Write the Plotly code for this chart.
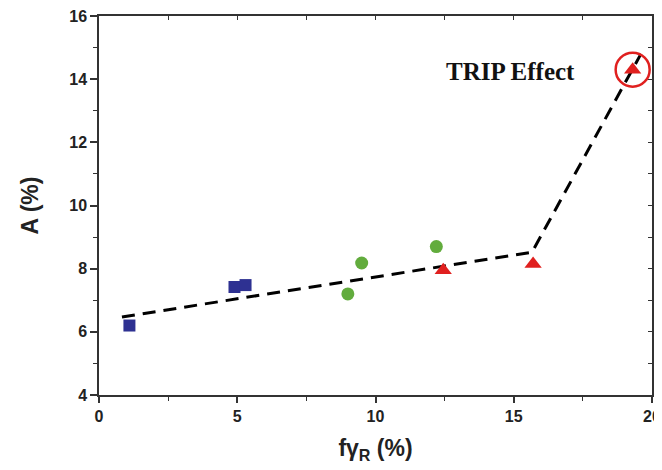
import plotly.graph_objects as go

sq_x = [1.1, 4.9, 5.3]
sq_y = [6.2, 7.42, 7.48]
ci_x = [9.0, 9.5, 12.2]
ci_y = [7.2, 8.18, 8.7]
tr_x = [12.45, 15.7, 19.3]
tr_y = [7.95, 8.15, 14.3]
fit_x = [0.83, 15.66, 19.6]
fit_y = [6.47, 8.52, 14.8]
hl_x = [19.3]
hl_y = [14.3]

fig = go.Figure()
fig.add_trace(go.Scatter(x=fit_x, y=fit_y, mode="lines",
                         line=dict(color="black", width=3, dash="13px,8px"),
                         showlegend=False, hoverinfo="skip"))
fig.add_trace(go.Scatter(x=sq_x, y=sq_y, mode="markers",
                         marker=dict(symbol="square", size=12, color="#2E3192"),
                         showlegend=False))
fig.add_trace(go.Scatter(x=ci_x, y=ci_y, mode="markers",
                         marker=dict(symbol="circle", size=13, color="#62AC3D"),
                         showlegend=False))
fig.add_trace(go.Scatter(x=tr_x, y=tr_y, mode="markers",
                         marker=dict(symbol="triangle-up", size=15, color="#E0201F"),
                         showlegend=False))
fig.add_trace(go.Scatter(x=hl_x, y=hl_y, mode="markers",
                         marker=dict(symbol="circle-open", size=34, color="#E0201F",
                                     line=dict(width=2.5, color="#E0201F")),
                         showlegend=False))
# invisible trace for mirror axes (top/right with inside ticks)
fig.add_trace(go.Scatter(x=[0], y=[4], xaxis="x2", yaxis="y2", mode="markers",
                         marker=dict(opacity=0), showlegend=False, hoverinfo="skip"))

tickfont = dict(family="Liberation Sans, Arial", size=16, color="#222", weight="bold")
titlefont = dict(family="Liberation Sans, Arial", size=23, color="#222", weight="bold")

# page body has an 8px margin, so the figure is sized to fit inside the window
fig.update_layout(
    width=654, height=462,
    margin=dict(l=91, r=10, t=8, b=75),
    paper_bgcolor="white", plot_bgcolor="white",
    xaxis=dict(range=[0, 20], tickvals=[0, 5, 10, 15, 20], ticks="outside",
               ticklen=6, tickwidth=1.5, tickcolor="#333", automargin=False,
               ticklabeloverflow="allow", mirror=True,
               minor=dict(dtick=2.5, tick0=0, ticks="outside", ticklen=4, tickcolor="#333", tickwidth=1.2),
               showline=True, linecolor="#333", linewidth=1.5, showgrid=False, zeroline=False,
               tickfont=tickfont,
               title=dict(text="fγ<sub>R</sub> (%)", standoff=16, font=titlefont)),
    yaxis=dict(range=[4, 16], tickvals=[4, 6, 8, 10, 12, 14, 16], ticks="outside",
               ticklen=7, tickwidth=1.5, tickcolor="#333", automargin=False,
               ticklabeloverflow="allow", mirror=True,
               minor=dict(dtick=1, tick0=0, ticks="outside", ticklen=4, tickcolor="#333", tickwidth=1.2),
               showline=True, linecolor="#333", linewidth=1.5, showgrid=False, zeroline=False,
               tickfont=tickfont,
               title=dict(text="A (%)", standoff=24, font=titlefont)),
    xaxis2=dict(range=[0, 20], overlaying="x", side="top", anchor="y2", automargin=False,
                tickvals=[2.5, 5, 7.5, 10, 12.5, 15, 17.5], ticks="inside", ticklen=4,
                tickcolor="#333", tickwidth=1.2, showticklabels=False,
                showline=True, linecolor="#333", linewidth=1.5, showgrid=False, zeroline=False),
    yaxis2=dict(range=[4, 16], overlaying="y", side="right", anchor="x2", automargin=False,
                tickvals=[5, 6, 7, 8, 9, 10, 11, 12, 13, 14, 15], ticks="inside", ticklen=4,
                tickcolor="#333", tickwidth=1.2, showticklabels=False,
                showline=True, linecolor="#333", linewidth=1.5, showgrid=False, zeroline=False),
)

fig.add_annotation(x=14.9, y=14.25, xref="x", yref="y", text="<b>TRIP Effect</b>",
                   showarrow=False,
                   font=dict(family="Liberation Serif, Times New Roman", size=25, color="#111"))

fig.write_html("out.html")
